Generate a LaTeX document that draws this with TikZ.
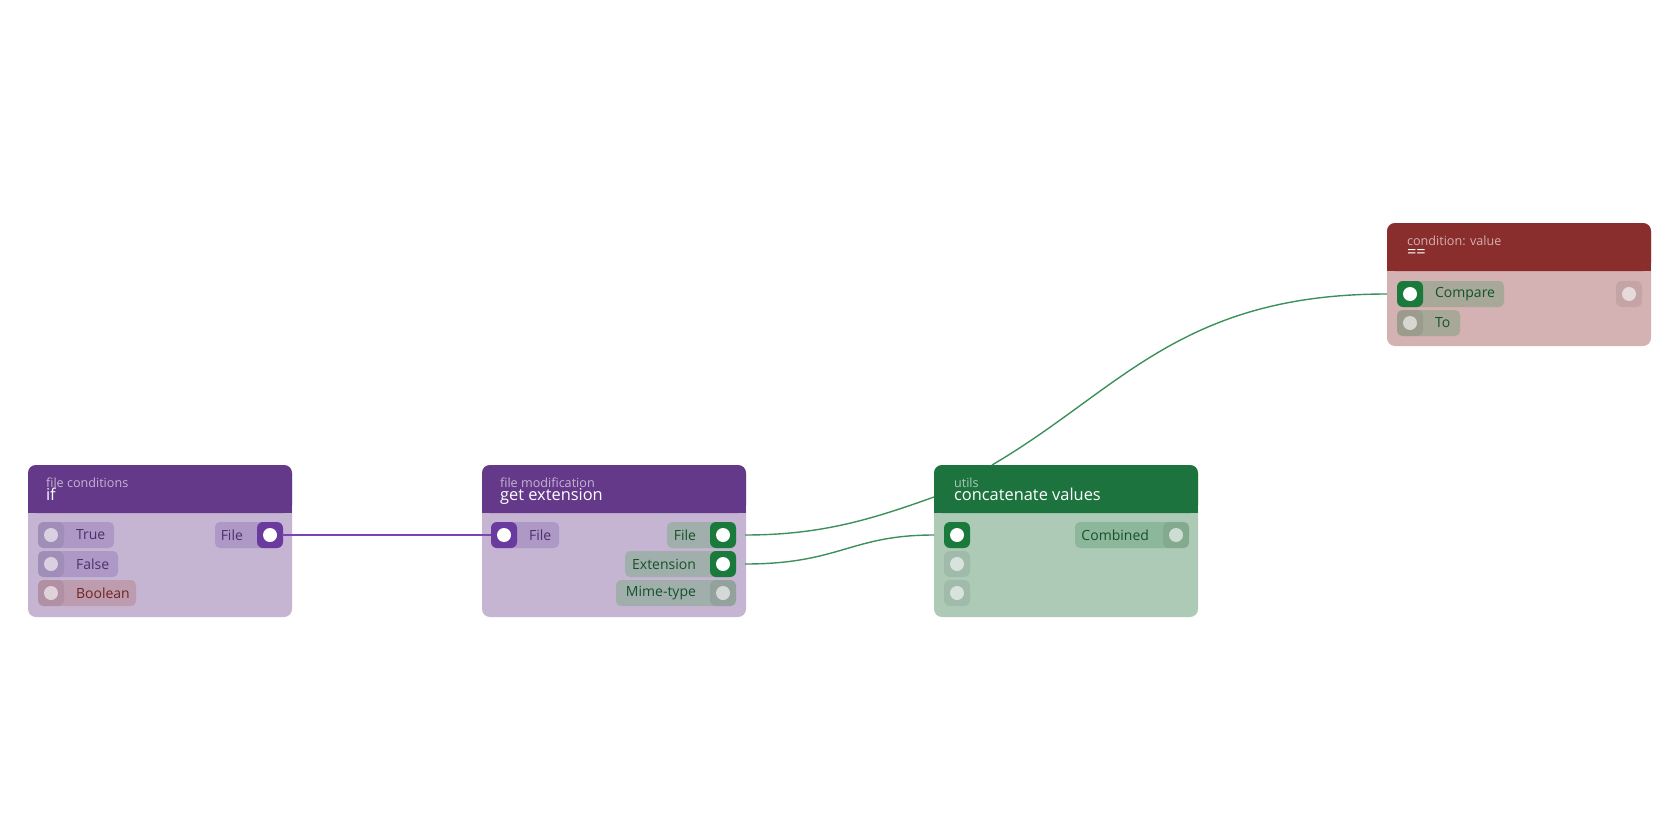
\documentclass[tikz,border=0pt]{standalone}
\usepackage{fontspec}
\setmainfont{Open Sans}
\usetikzlibrary{positioning}
\definecolor{purphead}{RGB}{101,57,138}
\definecolor{purpbody}{RGB}{197,181,210}
\definecolor{purppill}{RGB}{173,152,198}
\definecolor{purpsock}{RGB}{106,58,158}
\definecolor{boolpill}{RGB}{190,156,175}
\definecolor{greenhead}{RGB}{29,115,61}
\definecolor{greenbody}{RGB}{173,202,183}
\definecolor{greenpill}{RGB}{141,183,154}
\definecolor{greensock}{RGB}{26,122,60}
\definecolor{greypill}{RGB}{160,175,171}
\definecolor{redhead}{RGB}{138,45,45}
\definecolor{redbody}{RGB}{212,177,178}
\definecolor{redpill}{RGB}{168,168,152}
\definecolor{purpedge}{RGB}{120,70,180}
\definecolor{greenedge}{RGB}{60,145,90}
\tikzset{
  sock/.style={fill=black, fill opacity=0.07, rounded corners=3pt, minimum size=13pt, inner sep=0pt},
  on/.style={fill=#1, fill opacity=1},
  dot/.style={circle, fill=white, fill opacity=0.6, minimum size=7pt, inner sep=0pt},
  hot/.style={circle, fill=white, minimum size=7pt, inner sep=0pt},
  lbl/.style={font=\fontsize{7}{8}\selectfont},
  sub/.style={font=\fontsize{6.3}{7}\selectfont, anchor=base west},
  ttl/.style={font=\fontsize{8.2}{9}\selectfont, anchor=base west, text=white},
}
% box: x, y, w, h, head, body
\newcommand{\nbox}[6]{%
  \fill[#6, rounded corners=4pt] (#1,#2) rectangle ++(#3,#4);
  \fill[#5, rounded corners=4pt] (#1,#2) rectangle ++(#3,48);
  \fill[#5] (#1,#2+40) rectangle ++(#3,8);}
\begin{document}
\begin{tikzpicture}[x=0.5pt,y=-0.5pt]
\useasboundingbox (0,0) rectangle (1680,840);
% if
\nbox{28}{465}{264}{152}{purphead}{purpbody}
\node[sub, text=purpbody] at (39,487) {file conditions};
\node[ttl] at (39,500) {if};
\fill[purppill, rounded corners=2.5pt] (38,522) rectangle (114,548);
\fill[purppill, rounded corners=2.5pt] (38,551) rectangle (118,577);
\fill[boolpill, rounded corners=2.5pt] (38,580) rectangle (136,606);
\foreach \y/\t/\c in {535/True/purphead!80!black, 564/False/purphead!80!black, 593/Boolean/redhead!80!black}{
  \node[sock] at (51,\y) {};
  \node[dot] at (51,\y) {};
  \node[lbl, anchor=west, text=\c] at (69,\y) {\t};
}
\fill[purppill, rounded corners=2.5pt] (215,522) rectangle (282,548);
\node[lbl, anchor=east, text=purphead!80!black] at (250,535) {File};
\node[sock, on=purpsock] at (270,535) {};
\node[hot] (ifFile) at (270,535) {};
\coordinate (ifOut) at (282,535);
% get extension
\nbox{482}{465}{264}{152}{purphead}{purpbody}
\node[sub, text=purpbody] at (493,487) {file modification};
\node[ttl] at (493,500) {get extension};
\fill[purppill, rounded corners=2.5pt] (491,522) rectangle (559,548);
\node[sock, on=purpsock] at (504,535) {};
\node[hot] at (504,535) {};
\node[lbl, anchor=west, text=purphead!80!black] at (522,535) {File};
\coordinate (geIn) at (491,535);
\fill[greypill, rounded corners=2.5pt] (667,522) rectangle (736,548);
\fill[greypill, rounded corners=2.5pt] (625,551) rectangle (736,577);
\fill[greypill, rounded corners=2.5pt] (616,580) rectangle (736,606);
\foreach \y/\t/\n in {535/File/geFile, 564/Extension/geExt}{
  \node[lbl, anchor=east, text=greenhead!70!black] at (703,\y) {\t};
  \node[sock, on=greensock] at (723,\y) {};
  \node[hot] at (723,\y) {};
  \coordinate (\n) at (745,\y);
}
\node[lbl, anchor=east, text=greenhead!70!black] at (703,593) {Mime-type};
\node[sock] at (723,593) {};
\node[dot] at (723,593) {};
% concatenate values
\nbox{934}{465}{264}{152}{greenhead}{greenbody}
\node[sub, text=greenbody] at (947,487) {utils};
\node[ttl] at (947,500) {concatenate values};
\node[sock, on=greensock] at (957,535) {};
\node[hot] at (957,535) {};
\coordinate (cvIn) at (934,535);
\coordinate (cvHead) at (934,497);
\coordinate (cvTop) at (992,465);
\foreach \y in {564,593}{
  \node[sock] at (957,\y) {};
  \node[dot] at (957,\y) {};
}
\fill[greenpill, rounded corners=2.5pt] (1075,522) rectangle (1189,548);
\node[lbl, anchor=east, text=greenhead!70!black] at (1156,535) {Combined};
\node[sock] at (1176,535) {};
\node[dot] at (1176,535) {};
% condition
\nbox{1387}{223}{264}{123}{redhead}{redbody}
\node[sub, text=redbody] at (1400,245) {condition: value};
\node[ttl] at (1400,257) {==};
\fill[redpill, rounded corners=2.5pt] (1397,281) rectangle (1504,307);
\fill[redpill, rounded corners=2.5pt] (1397,310) rectangle (1460,336);
\node[sock, on=greensock] at (1410,294) {};
\node[hot] at (1410,294) {};
\node[lbl, anchor=west, text=greenhead!70!black] at (1428,294) {Compare};
\node[sock] at (1410,323) {};
\node[dot] at (1410,323) {};
\node[lbl, anchor=west, text=greenhead!70!black] at (1428,323) {To};
\node[sock] at (1629,294) {};
\node[dot] at (1629,294) {};
\coordinate (cdIn) at (1387,294);
% edges
\draw[purpedge, line width=0.7pt] (ifOut) -- (geIn);
\draw[greenedge, line width=0.7pt] (geFile) .. controls (820,535) and (870,520) .. (cvHead);
\draw[greenedge, line width=0.7pt] (geExt) .. controls (840,564) and (850,535) .. (cvIn);
\draw[greenedge, line width=0.7pt] (cvTop) .. controls (1120,390) and (1180,294) .. (cdIn);
\end{tikzpicture}
\end{document}
